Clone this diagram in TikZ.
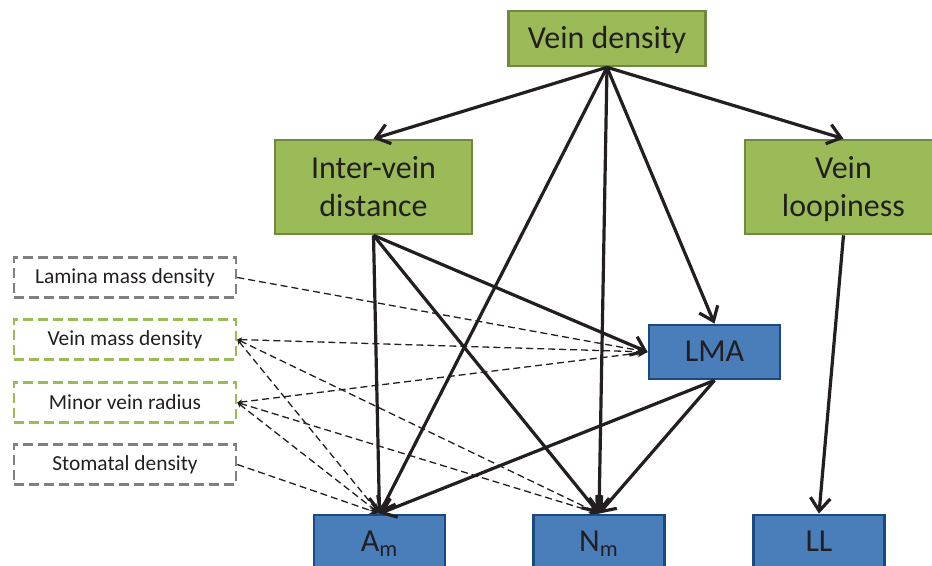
\documentclass[tikz,border=0pt]{standalone}
\usepackage{fontspec}
\setmainfont{Carlito}
\usetikzlibrary{arrows.meta}
\definecolor{veingreen}{HTML}{9BBB59}
\definecolor{veinedge}{HTML}{71893F}
\definecolor{traitblue}{HTML}{4A7EBB}
\definecolor{traitedge}{HTML}{1B4A80}
\definecolor{inkdark}{HTML}{231F20}
\definecolor{boxgray}{HTML}{808080}

\begin{document}
\begin{tikzpicture}[x=0.5pt, y=-0.5pt,
		font=\fontsize{16}{19}\selectfont, text=inkdark,
		vein/.style={draw=veinedge, fill=veingreen, line width=1.3pt, align=center, minimum width=98.5pt, minimum height=47pt, inner sep=0pt, text depth=1pt},
		trait/.style={draw=traitedge, fill=traitblue, line width=1.4pt, minimum width=65.5pt, minimum height=27pt, inner sep=0pt, text depth=1pt},
		hidden/.style={draw=#1, dash pattern=on 5pt off 2.5pt, line width=1.3pt, minimum width=111pt, minimum height=20pt, inner sep=0pt, font=\fontsize{10.7}{12}\selectfont},
		link/.style={draw=inkdark, line width=1.6pt, -{Straight Barb[length=6.5pt, width=10pt, line width=1.6pt]}},
		weak/.style={draw=inkdark, line width=0.65pt, dash pattern=on 3.5pt off 2pt, -{Stealth[length=5pt, width=4pt]}},
		weakboth/.style={weak, {Stealth[length=2.5pt, width=2.5pt]}-{Stealth[length=5pt, width=4pt]}}]
		\clip (0,0) rectangle (932,566);
		% Nodes:
		\node[vein, minimum height=27.5pt] (vd) at (607, 38.5) {Vein density};
		\node[vein] (ivd) at (373.5, 187) {Inter-vein\\distance};
		\node[vein] (vl) at (843.5, 187) {Vein\\loopiness};
		\node[trait] (lma) at (714.5, 352) {LMA};
		\node[trait] (am) at (379.5, 542) {A\textsubscript{m}};
		\node[trait] (nm) at (599, 542) {N\textsubscript{m}};
		\node[trait] (ll) at (819, 542) {LL};
		\node[hidden=boxgray] (lmd) at (125, 277.5) {Lamina mass density};
		\node[hidden=veingreen] (vmd) at (125, 339.5) {Vein mass density};
		\node[hidden=veingreen] (mvr) at (125, 402.5) {Minor vein radius};
		\node[hidden=boxgray] (sd) at (125, 464.5) {Stomatal density};
		% Dashed links:
		\draw[weak] (lmd.east) -- (lma.west);
		\draw[weakboth] (vmd.east) -- (lma.west);
		\draw[weakboth] (vmd.east) -- (am.north);
		\draw[weakboth] (vmd.east) -- (nm.north);
		\draw[weakboth] (mvr.east) -- (lma.west);
		\draw[weakboth] (mvr.east) -- (am.north);
		\draw[weakboth] (mvr.east) -- (nm.north);
		\draw[weak] (sd.east) -- (am.north);
		% Solid links:
		\draw[link] (vd.south) -- (ivd.north);
		\draw[link] (vd.south) -- (vl.north);
		\draw[link] (vd.south) -- (am.north);
		\draw[link] (vd.south) -- (nm.north);
		\draw[link] (vd.south) -- (lma.north);
		\draw[link] (ivd.south) -- (am.north);
		\draw[link] (ivd.south) -- (nm.north);
		\draw[link] (ivd.south) -- (lma.west);
		\draw[link] (vl.south) -- (ll.north);
		\draw[link] (lma.south) -- (am.north);
		\draw[link] (lma.south) -- (nm.north);
	\end{tikzpicture}
\end{document}
